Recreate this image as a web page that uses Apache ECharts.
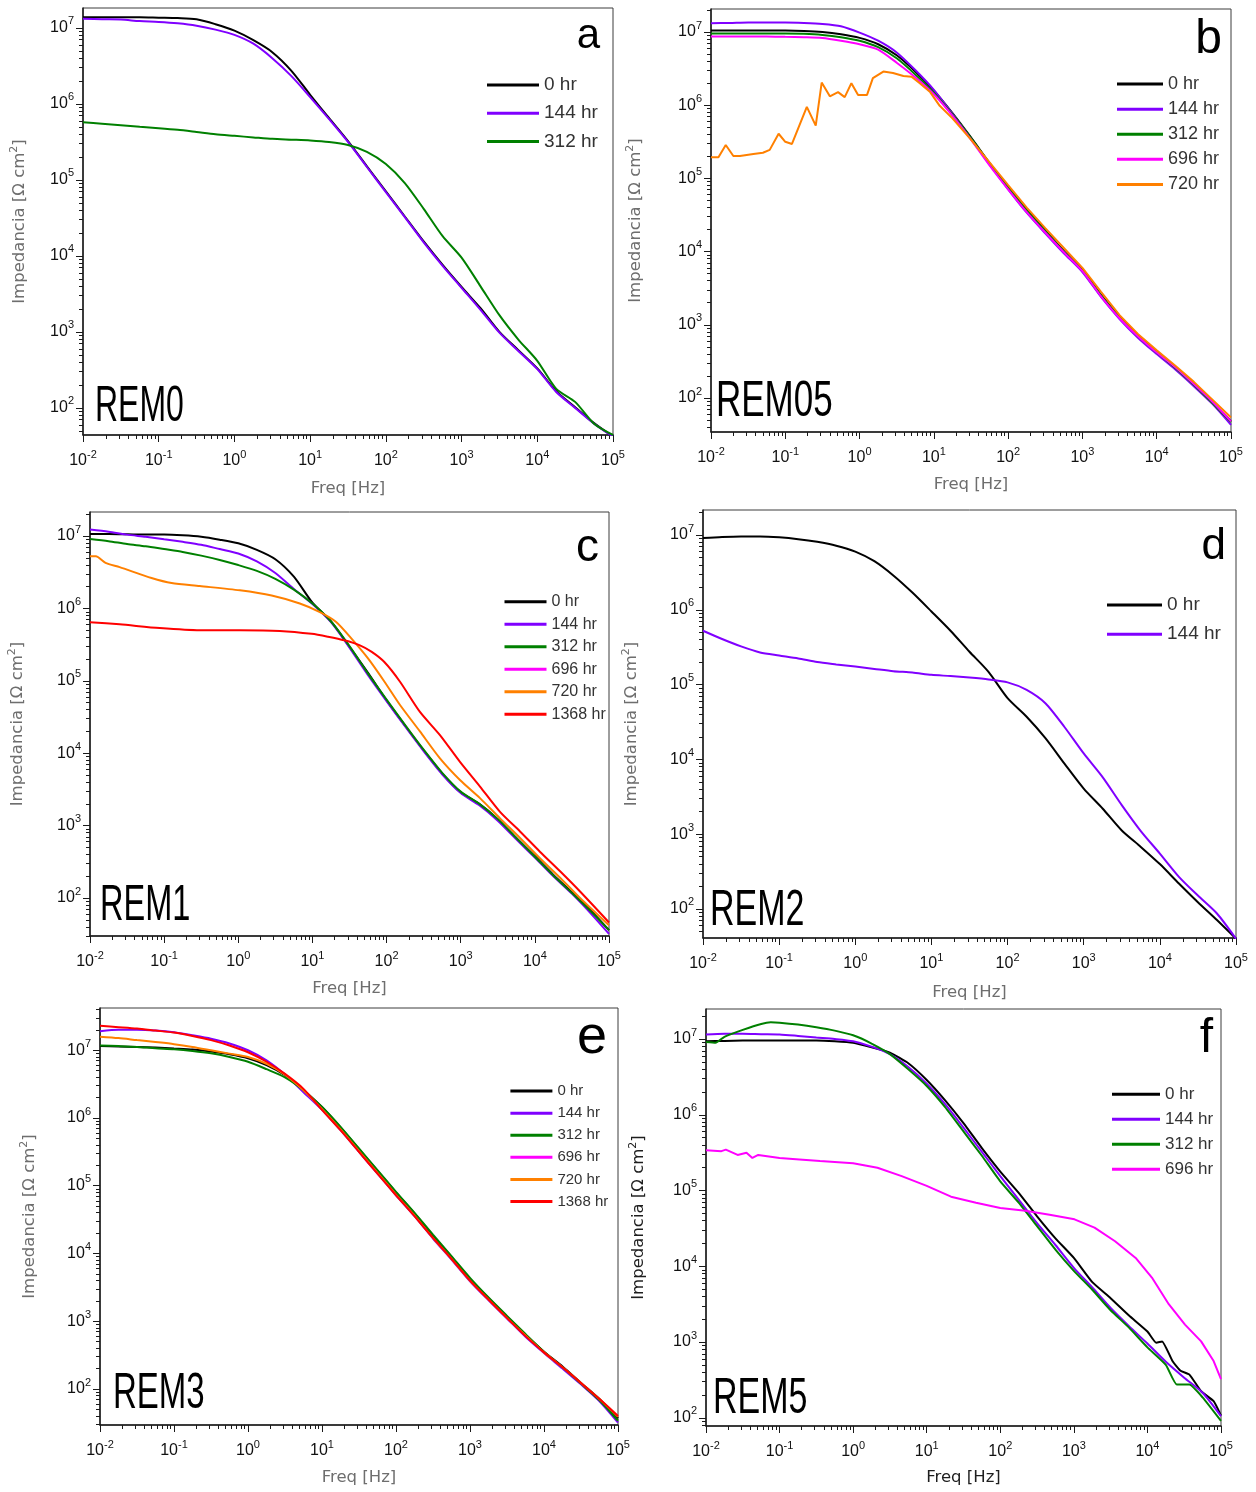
<!DOCTYPE html>
<html>
<head>
<meta charset="utf-8">
<title>Impedancia vs Freq</title>
<script src="https://cdn.jsdelivr.net/npm/echarts@6/dist/echarts.min.js"></script>
<style>
  html, body { margin: 0; padding: 0; background: #ffffff; }
  #chart { width: 1256px; height: 1492px; }
</style>
</head>
<body>
<div id="chart"></div>
<script>
// ---------- tick values ----------
const X_MAJOR = [0.01, 0.1, 1, 10, 100, 1000, 10000, 100000];
const Y_MAJOR = [10, 100, 1000, 10000, 100000, 1000000, 10000000];

// ---------- shared frequency grid (Hz), quarter-decade steps ----------
const FREQ_Q = [0.01, 0.0178, 0.0316, 0.0562, 0.1, 0.178, 0.316, 0.562, 1, 1.78, 3.16, 5.62,
  10, 17.8, 31.6, 56.2, 100, 178, 316, 562, 1000, 1780, 3160, 5620, 10000, 17800, 31600, 56200, 100000];

// ---------- REM0 (Ω cm²) ----------
const REM0_0H = [1.38e7, 1.38e7, 1.38e7, 1.38e7, 1.365e7, 1.35e7, 1.3e7, 1.12e7, 9.2e6, 6.9e6, 4.8e6, 2.75e6,
  1.32e6, 6.5e5, 3.24e5, 1.51e5, 7.1e4, 3.3e4, 1.55e4, 7.6e3, 3.9e3, 2.05e3, 1.0e3, 575, 331, 166, 102, 63, 42];
const REM0_144H = [1.32e7, 1.30e7, 1.29e7, 1.23e7, 1.20e7, 1.15e7, 1.07e7, 9.5e6, 8.1e6, 6.2e6, 4.0e6, 2.34e6,
  1.23e6, 6.3e5, 3.16e5, 1.48e5, 6.9e4, 3.24e4, 1.51e4, 7.4e3, 3.8e3, 1.95e3, 977, 562, 324, 162, 100, 62, 42];
const REM0_312H = [5.75e5, 5.5e5, 5.25e5, 5.0e5, 4.8e5, 4.57e5, 4.27e5, 3.98e5, 3.8e5, 3.63e5, 3.47e5, 3.39e5,
  3.31e5, 3.16e5, 2.88e5, 2.34e5, 1.62e5, 9.1e4, 4.17e4, 1.82e4, 9.5e3, 3.98e3, 1.66e3, 794, 417, 178, 120, 62, 44];

// ---------- REM05 ----------
const REM05_0H = [1.05e7, 1.05e7, 1.05e7, 1.05e7, 1.05e7, 1.035e7, 1.0e7, 9.3e6, 8.3e6, 6.8e6, 4.8e6, 2.88e6,
  1.58e6, 7.8e5, 3.63e5, 1.62e5, 7.6e4, 3.7e4, 1.95e4, 1.02e4, 5.6e3, 2.57e3, 1.29e3, 708, 427, 263, 155, 87, 48];
const REM05_144H = [1.32e7, 1.33e7, 1.35e7, 1.35e7, 1.35e7, 1.33e7, 1.29e7, 1.2e7, 9.8e6, 7.6e6, 5.25e6, 3.02e6,
  1.62e6, 7.6e5, 3.47e5, 1.55e5, 7.1e4, 3.4e4, 1.78e4, 9.5e3, 5.25e3, 2.4e3, 1.2e3, 661, 398, 245, 145, 83, 43];
const REM05_312H = [9.55e6, 9.55e6, 9.55e6, 9.55e6, 9.55e6, 9.44e6, 9.12e6, 8.5e6, 7.6e6, 6.2e6, 4.37e6, 2.63e6,
  1.48e6, 7.4e5, 3.55e5, 1.58e5, 7.4e4, 3.63e4, 1.9e4, 1.0e4, 5.5e3, 2.51e3, 1.26e3, 692, 417, 257, 151, 85, 47];
const REM05_696H = [8.7e6, 8.7e6, 8.7e6, 8.7e6, 8.6e6, 8.5e6, 8.3e6, 7.6e6, 6.8e6, 5.75e6, 3.8e6, 2.4e6,
  1.41e6, 7.2e5, 3.39e5, 1.51e5, 7.1e4, 3.47e4, 1.82e4, 9.8e3, 5.4e3, 2.45e3, 1.23e3, 692, 417, 263, 155, 89, 48];
const FREQ_REM05_720H = [0.01, 0.0126, 0.0158, 0.02, 0.0245, 0.0372, 0.05, 0.0617, 0.0813, 0.1, 0.123, 0.195,
  0.257, 0.309, 0.398, 0.513, 0.631, 0.776, 0.955, 1.26, 1.51, 2.09, 2.82, 3.89, 5.01, 6.46, 8.91, 12.0,
  17.8, 31.6, 56.2, 100, 178, 316, 562, 1000, 1780, 3160, 5620, 10000, 17800, 31600, 56200, 100000];
const REM05_720H = [1.94e5, 1.94e5, 2.86e5, 2.02e5, 2.02e5, 2.15e5, 2.24e5, 2.45e5, 4.07e5, 3.16e5, 2.95e5, 9.5e5,
  5.25e5, 2.04e6, 1.32e6, 1.51e6, 1.29e6, 2.0e6, 1.38e6, 1.38e6, 2.34e6, 2.88e6, 2.75e6, 2.51e6, 2.45e6, 2.0e6,
  1.51e6, 9.8e5, 6.6e5, 3.39e5, 1.66e5, 8.1e4, 3.98e4, 2.09e4, 1.12e4, 6.0e3, 2.82e3, 1.35e3, 741, 447, 275, 166, 95, 54];

// ---------- REM1 ----------
const REM1_0H = [1.07e7, 1.07e7, 1.06e7, 1.047e7, 1.047e7, 1.023e7, 9.77e6, 8.91e6, 7.94e6, 6.46e6, 4.79e6, 2.75e6,
  1.2e6, 6.61e5, 2.95e5, 1.29e5, 5.37e4, 2.4e4, 1.1e4, 5.25e3, 2.88e3, 2.0e3, 1.23e3, 676, 380, 209, 120, 68, 36];
const REM1_144H = [1.23e7, 1.15e7, 1.047e7, 9.77e6, 9.02e6, 8.32e6, 7.59e6, 6.61e6, 5.75e6, 4.47e6, 3.09e6, 1.86e6,
  1.15e6, 6.46e5, 2.88e5, 1.2e5, 5.25e4, 2.34e4, 1.07e4, 5.13e3, 2.82e3, 1.91e3, 1.17e3, 646, 363, 200, 115, 62, 32];
const REM1_312H = [9.12e6, 8.51e6, 7.76e6, 7.24e6, 6.61e6, 6.03e6, 5.37e6, 4.68e6, 3.98e6, 3.31e6, 2.57e6, 1.82e6,
  1.17e6, 6.61e5, 3.02e5, 1.26e5, 5.5e4, 2.45e4, 1.12e4, 5.37e3, 2.95e3, 2.0e3, 1.23e3, 676, 372, 204, 117, 66, 36];
const FREQ_REM1_720H = [0.01, 0.012, 0.0162, 0.0251, 0.0676, 0.126, 0.302, 1.05, 2.82, 6.76, 12.6, 20.9, 33.9,
  56.2, 93.3, 151, 282, 525, 977, 1820, 3390, 6310, 11700, 21900, 40700, 100000];
const REM1_720H = [5.25e6, 5.25e6, 4.27e6, 3.72e6, 2.63e6, 2.24e6, 2.04e6, 1.78e6, 1.51e6, 1.17e6, 8.9e5, 6.5e5,
  3.8e5, 2.04e5, 9.8e4, 4.68e4, 2.0e4, 8.5e3, 4.27e3, 2.4e3, 1.26e3, 676, 355, 191, 100, 42];
const FREQ_REM1_1368H = [0.01, 0.0251, 0.0871, 0.302, 1.05, 3.63, 9.77, 16.2, 26.9, 43.7, 63.1, 93.3, 151, 282,
  525, 977, 1820, 3390, 6310, 11700, 21900, 40700, 100000];
const REM1_1368H = [6.46e5, 6.03e5, 5.37e5, 5.01e5, 5.01e5, 4.9e5, 4.47e5, 4.07e5, 3.63e5, 3.09e5, 2.51e5, 1.82e5,
  9.8e4, 3.72e4, 1.78e4, 7.6e3, 3.47e3, 1.55e3, 832, 437, 234, 123, 46];

// ---------- REM2 ----------
const REM2_0H = [9.1e6, 9.4e6, 9.55e6, 9.55e6, 9.3e6, 8.8e6, 8.1e6, 7.2e6, 6.0e6, 4.47e6, 2.88e6, 1.7e6,
  9.5e5, 5.25e5, 2.75e5, 1.48e5, 6.6e4, 3.72e4, 1.91e4, 8.7e3, 4.07e3, 2.19e3, 1.12e3, 676, 398, 219, 123, 71, 40];
const REM2_144H = [5.25e5, 4.07e5, 3.24e5, 2.69e5, 2.45e5, 2.24e5, 2.0e5, 1.86e5, 1.74e5, 1.62e5, 1.51e5, 1.45e5,
  1.35e5, 1.3e5, 1.24e5, 1.17e5, 1.07e5, 8.5e4, 5.6e4, 2.69e4, 1.2e4, 5.75e3, 2.45e3, 1.1e3, 550, 269, 151, 87, 40];

// ---------- REM3 ----------
const REM3_0H = [1.15e7, 1.135e7, 1.12e7, 1.096e7, 1.06e7, 1.023e7, 9.55e6, 8.7e6, 7.59e6, 6.03e6, 4.27e6, 2.57e6,
  1.45e6, 7.24e5, 3.47e5, 1.66e5, 7.94e4, 3.89e4, 1.82e4, 8.91e3, 4.17e3, 2.19e3, 1.17e3, 631, 355, 214, 123, 71, 37];
const REM3_144H = [1.905e7, 2.0e7, 2.0e7, 1.95e7, 1.84e7, 1.66e7, 1.48e7, 1.26e7, 1.0e7, 7.08e6, 4.37e6, 2.4e6,
  1.32e6, 6.6e5, 3.16e5, 1.51e5, 7.24e4, 3.55e4, 1.66e4, 8.13e3, 3.89e3, 2.04e3, 1.1e3, 589, 339, 200, 117, 66, 32];
const REM3_312H = [1.175e7, 1.15e7, 1.12e7, 1.07e7, 1.035e7, 9.77e6, 9.0e6, 7.94e6, 6.76e6, 5.25e6, 3.98e6, 2.57e6,
  1.45e6, 7.41e5, 3.55e5, 1.7e5, 8.13e4, 3.98e4, 1.9e4, 9.12e3, 4.37e3, 2.24e3, 1.2e3, 646, 355, 209, 120, 68, 34];
const REM3_720H = [1.585e7, 1.51e7, 1.41e7, 1.32e7, 1.23e7, 1.12e7, 1.0e7, 8.91e6, 7.94e6, 6.31e6, 4.37e6, 2.57e6,
  1.35e6, 6.76e5, 3.24e5, 1.55e5, 7.41e4, 3.63e4, 1.7e4, 8.32e3, 3.98e3, 2.09e3, 1.12e3, 617, 347, 209, 123, 71, 39];
const REM3_1368H = [2.29e7, 2.19e7, 2.09e7, 1.95e7, 1.82e7, 1.62e7, 1.41e7, 1.175e7, 9.33e6, 6.76e6, 4.47e6, 2.69e6,
  1.32e6, 6.6e5, 3.16e5, 1.51e5, 7.24e4, 3.55e4, 1.7e4, 8.32e3, 3.98e3, 2.09e3, 1.12e3, 603, 347, 209, 123, 71, 40];

// ---------- REM5 ----------
const FREQ_REM5_0H = [0.01, 0.0178, 0.0316, 0.0562, 0.1, 0.178, 0.316, 0.562, 1, 1.78, 3.16, 5.62,
  10, 17.8, 31.6, 56.2, 100, 178, 316, 562, 1000, 1780, 3160, 5620, 10000,
  13200, 15800, 21900, 28200, 37200, 53700, 79400, 100000];
const REM5_0H = [9.33e6, 9.44e6, 9.55e6, 9.55e6, 9.55e6, 9.55e6, 9.55e6, 9.33e6, 8.91e6, 7.76e6, 6.61e6, 4.79e6,
  2.88e6, 1.55e6, 7.76e5, 3.63e5, 1.78e5, 9.33e4, 4.57e4, 2.34e4, 1.29e4, 6.17e3, 3.8e3, 2.24e3, 1.38e3,
  977, 1020, 562, 417, 372, 224, 166, 107];
const REM5_144H = [1.15e7, 1.175e7, 1.175e7, 1.16e7, 1.15e7, 1.1e7, 1.047e7, 1.0e7, 9.33e6, 7.94e6, 6.31e6, 4.27e6,
  2.57e6, 1.38e6, 6.76e5, 3.24e5, 1.55e5, 7.59e4, 3.72e4, 1.91e4, 9.55e3, 5.25e3, 2.82e3, 1.62e3, 955, 550, 339, 214, 105];
const FREQ_REM5_312H = [0.01, 0.0135, 0.0178, 0.0316, 0.0562, 0.0759, 0.1, 0.178, 0.316, 0.562, 1, 1.78, 3.16, 5.62,
  10, 17.8, 31.6, 56.2, 100, 178, 316, 562, 1000, 1780, 3160, 5620, 10000, 17800, 25100, 37200, 56200, 100000];
const REM5_312H = [9.12e6, 8.91e6, 1.07e7, 1.32e7, 1.58e7, 1.66e7, 1.64e7, 1.55e7, 1.43e7, 1.29e7, 1.12e7, 8.71e6,
  6.31e6, 3.98e6, 2.4e6, 1.26e6, 6.03e5, 2.88e5, 1.32e5, 6.92e4, 3.39e4, 1.66e4, 8.71e3, 4.9e3, 2.63e3, 1.55e3,
  851, 501, 275, 275, 186, 91];
const FREQ_REM5_696H = [0.01, 0.0162, 0.0186, 0.0269, 0.0355, 0.0427, 0.0513, 0.1, 0.186, 0.355, 1, 2.14, 4.57,
  10, 21.4, 46.8, 100, 219, 468, 1020, 1910, 3630, 6920, 11500, 19500, 32400, 53700, 79400, 100000];
const REM5_696H = [3.39e5, 3.31e5, 3.47e5, 2.95e5, 3.16e5, 2.69e5, 2.95e5, 2.69e5, 2.57e5, 2.45e5, 2.29e5, 2.0e5,
  1.55e5, 1.15e5, 8.3e4, 6.9e4, 5.9e4, 5.4e4, 4.8e4, 4.17e4, 3.24e4, 2.14e4, 1.29e4, 7.1e3, 3.16e3, 1.7e3, 1.02e3, 562, 324];

// ---------- styling ----------
const COLORS = {
  '0 hr': '#000000', '144 hr': '#8000ff', '312 hr': '#008000',
  '696 hr': '#ff00ff', '720 hr': '#ff8000', '1368 hr': '#ff0000'
};
const SANS = '"Liberation Sans", Arial, sans-serif';
const NAME_FONT = '"DejaVu Sans", "Liberation Sans", sans-serif';

// grid: [left, top, width, height]; yRange: axis extent
const PANELS = [
  { sample: 'REM0', letter: 'a', grid: [83, 8, 530, 427], yRange: [44, 1.83e7],
    lines: [['0 hr', FREQ_Q, REM0_0H, 0.3], ['144 hr', FREQ_Q, REM0_144H, 0.3], ['312 hr', FREQ_Q, REM0_312H, 0.25]],
    legendNames: ['0 hr', '144 hr', '312 hr'],
    legend: { left: 487, top: 70.8, w: 52, fs: 19, lh: 28.3 },
    yGap: 52, xGap: 43, nameColor: '#6e6e6e',
    rem: { x: 95, y: 407, sx: 0.64 }, tag: { x: 600, y: 36, fs: 42 } },
  { sample: 'REM05', letter: 'b', grid: [711, 9, 520, 423], yRange: [34.3, 2.06e7],
    lines: [['0 hr', FREQ_Q, REM05_0H, 0.25], ['144 hr', FREQ_Q, REM05_144H, 0.25], ['312 hr', FREQ_Q, REM05_312H, 0.25],
            ['696 hr', FREQ_Q, REM05_696H, 0.25], ['720 hr', FREQ_REM05_720H, REM05_720H, false]],
    legendNames: ['0 hr', '144 hr', '312 hr', '696 hr', '720 hr'],
    legend: { left: 1117, top: 71.5, w: 46, fs: 18, lh: 25.1 },
    yGap: 64, xGap: 42, nameColor: '#6e6e6e',
    rem: { x: 716, y: 402, sx: 0.7 }, tag: { x: 1222, y: 40, fs: 48 } },
  { sample: 'REM1', letter: 'c', grid: [90, 512, 519, 424], yRange: [29.9, 2.15e7],
    lines: [['0 hr', FREQ_Q, REM1_0H, 0.25], ['144 hr', FREQ_Q, REM1_144H, 0.25], ['312 hr', FREQ_Q, REM1_312H, 0.25],
            ['720 hr', FREQ_REM1_720H, REM1_720H, 0.25], ['1368 hr', FREQ_REM1_1368H, REM1_1368H, 0.25]],
    legendNames: ['0 hr', '144 hr', '312 hr', '696 hr', '720 hr', '1368 hr'],
    legend: { left: 504.5, top: 590.4, w: 42, fs: 16, lh: 22.5 },
    yGap: 61, xGap: 42, nameColor: '#6e6e6e',
    rem: { x: 100, y: 906.5, sx: 0.65 }, tag: { x: 599, y: 548, fs: 46 } },
  { sample: 'REM2', letter: 'd', grid: [703, 510, 533, 428], yRange: [40.9, 2.16e7],
    lines: [['0 hr', FREQ_Q, REM2_0H, 0.25], ['144 hr', FREQ_Q, REM2_144H, 0.25]],
    legendNames: ['0 hr', '144 hr'],
    legend: { left: 1107, top: 590.3, w: 55, fs: 19, lh: 29.3 },
    yGap: 60, xGap: 44, nameColor: '#6e6e6e',
    rem: { x: 710, y: 911, sx: 0.68 }, tag: { x: 1226, y: 547, fs: 44 } },
  { sample: 'REM3', letter: 'e', grid: [100, 1008, 518, 417], yRange: [29.4, 4.2e7],
    lines: [['0 hr', FREQ_Q, REM3_0H, 0.25], ['144 hr', FREQ_Q, REM3_144H, 0.25], ['312 hr', FREQ_Q, REM3_312H, 0.25],
            ['720 hr', FREQ_Q, REM3_720H, 0.25], ['1368 hr', FREQ_Q, REM3_1368H, 0.25]],
    legendNames: ['0 hr', '144 hr', '312 hr', '696 hr', '720 hr', '1368 hr'],
    legend: { left: 510.4, top: 1080, w: 42, fs: 15, lh: 22.1 },
    yGap: 59, xGap: 42, nameColor: '#6e6e6e',
    rem: { x: 113, y: 1394.5, sx: 0.66 }, tag: { x: 607, y: 1038, fs: 54 } },
  { sample: 'REM5', letter: 'f', grid: [706, 1009, 515, 417], yRange: [78, 2.49e7],
    lines: [['0 hr', FREQ_REM5_0H, REM5_0H, 0.15], ['144 hr', FREQ_Q, REM5_144H, 0.25],
            ['312 hr', FREQ_REM5_312H, REM5_312H, 0.15], ['696 hr', FREQ_REM5_696H, REM5_696H, false]],
    legendNames: ['0 hr', '144 hr', '312 hr', '696 hr'],
    legend: { left: 1112, top: 1081.8, w: 48, fs: 17, lh: 25 },
    yGap: 56.5, xGap: 41, nameColor: '#1e1e1e',
    rem: { x: 713, y: 1399, sx: 0.68 }, tag: { x: 1213, y: 1039, fs: 48 } }
];

// minor ticks at 2..9 within every decade
function minorTicks(majors) {
  const out = [];
  majors.forEach(m => { for (let k = 2; k <= 9; k++) out.push(+(k * m).toPrecision(6)); });
  return out;
}
const X_MINOR = minorTicks(X_MAJOR);
const Y_MINOR = minorTicks(Y_MAJOR);

function powLabel(v) {
  const e = Math.round(Math.log10(v));
  return '{b|10}{s|' + e + '}';
}
const TICK_RICH = {
  b: { fontFamily: SANS, fontSize: 16, color: '#111', lineHeight: 24 },
  s: { fontFamily: SANS, fontSize: 11, color: '#111', lineHeight: 12, verticalAlign: 'top' }
};
const AXIS_LINE = { color: '#1a1a1a', width: 1.5 };
const TICK_LINE = { color: '#1a1a1a', width: 1 };

const grid = [], xAxis = [], yAxis = [], series = [], legend = [], graphic = [];

PANELS.forEach((p, i) => {
  grid.push({
    left: p.grid[0], top: p.grid[1], width: p.grid[2], height: p.grid[3],
    show: true, borderColor: '#3c3c3c', borderWidth: 1, backgroundColor: 'transparent',
    containLabel: false, outerBoundsMode: 'none'
  });
  const base = {
    type: 'log', logBase: 10, gridIndex: i, silent: true,
    splitLine: { show: false }, minorTick: { show: false }, minorSplitLine: { show: false },
    axisPointer: { show: false }, nameMoveOverlap: false
  };
  const nameStyle = {
    fontFamily: NAME_FONT, fontSize: 16.5, color: p.nameColor, lineHeight: 22,
    rich: { s: { fontFamily: NAME_FONT, fontSize: 11, color: p.nameColor, lineHeight: 12, verticalAlign: 'top' } }
  };
  // main x axis: line, major ticks, labels, title
  xAxis.push(Object.assign({}, base, {
    position: 'bottom', min: X_MAJOR[0], max: X_MAJOR[X_MAJOR.length - 1],
    name: 'Freq [Hz]', nameLocation: 'middle', nameGap: p.xGap, nameTextStyle: nameStyle,
    axisLine: { show: true, onZero: false, lineStyle: AXIS_LINE },
    axisTick: { show: true, inside: false, length: 7, customValues: X_MAJOR, lineStyle: TICK_LINE },
    axisLabel: { show: true, margin: 14, customValues: X_MAJOR, formatter: powLabel, rich: TICK_RICH }
  }));
  // companion x axis carrying the minor ticks
  xAxis.push(Object.assign({}, base, {
    position: 'bottom', min: X_MAJOR[0], max: X_MAJOR[X_MAJOR.length - 1],
    axisLine: { show: false, onZero: false },
    axisTick: { show: true, inside: false, length: 4, customValues: X_MINOR, lineStyle: TICK_LINE },
    axisLabel: { show: false }
  }));
  yAxis.push(Object.assign({}, base, {
    position: 'left', min: p.yRange[0], max: p.yRange[1],
    name: 'Impedancia [Ω cm{s|2}]', nameLocation: 'middle', nameGap: p.yGap, nameRotate: 90,
    nameTextStyle: nameStyle,
    axisLine: { show: true, onZero: false, lineStyle: AXIS_LINE },
    axisTick: { show: true, inside: false, length: 7, customValues: Y_MAJOR, lineStyle: TICK_LINE },
    axisLabel: { show: true, margin: 9, customValues: Y_MAJOR, formatter: powLabel, rich: TICK_RICH }
  }));
  yAxis.push(Object.assign({}, base, {
    position: 'left', min: p.yRange[0], max: p.yRange[1],
    axisLine: { show: false, onZero: false },
    axisTick: { show: true, inside: false, length: 4, customValues: Y_MINOR, lineStyle: TICK_LINE },
    axisLabel: { show: false }
  }));

  p.lines.forEach(([name, freq, z, smooth]) => {
    const color = COLORS[name];
    series.push({
      type: 'line', name: name,
      xAxisIndex: 2 * i, yAxisIndex: 2 * i,
      data: freq.map((f, k) => [f, z[k]]),
      showSymbol: false, symbol: 'none', smooth: smooth,
      color: color, itemStyle: { color: color },
      lineStyle: { color: color, width: 2 },
      emphasis: { disabled: true }, silent: true, animation: false
    });
  });

  legend.push({
    orient: 'vertical', left: p.legend.left, top: p.legend.top, padding: 0,
    itemGap: 0, itemWidth: p.legend.w, itemHeight: 3, icon: 'rect',
    selectedMode: false, data: p.legendNames,
    itemStyle: { borderWidth: 0 },
    textStyle: { fontFamily: SANS, fontSize: p.legend.fs, color: '#333', lineHeight: p.legend.lh }
  });

  graphic.push({
    type: 'text', x: p.rem.x, y: p.rem.y, scaleX: p.rem.sx, silent: true,
    style: { text: p.sample, font: '50px ' + SANS, fill: '#000',
             textAlign: 'left', textVerticalAlign: 'middle', align: 'left', verticalAlign: 'middle' }
  });
  graphic.push({
    type: 'text', x: p.tag.x, y: p.tag.y, silent: true,
    style: { text: p.letter, font: p.tag.fs + 'px ' + SANS, fill: '#000',
             textAlign: 'right', textVerticalAlign: 'middle', align: 'right', verticalAlign: 'middle' }
  });
});

const chart = echarts.init(document.getElementById('chart'), null, { renderer: 'canvas', devicePixelRatio: 1 });
chart.setOption({
  animation: false,
  backgroundColor: '#ffffff',
  grid: grid, xAxis: xAxis, yAxis: yAxis,
  legend: legend, series: series, graphic: graphic
});
</script>
</body>
</html>
